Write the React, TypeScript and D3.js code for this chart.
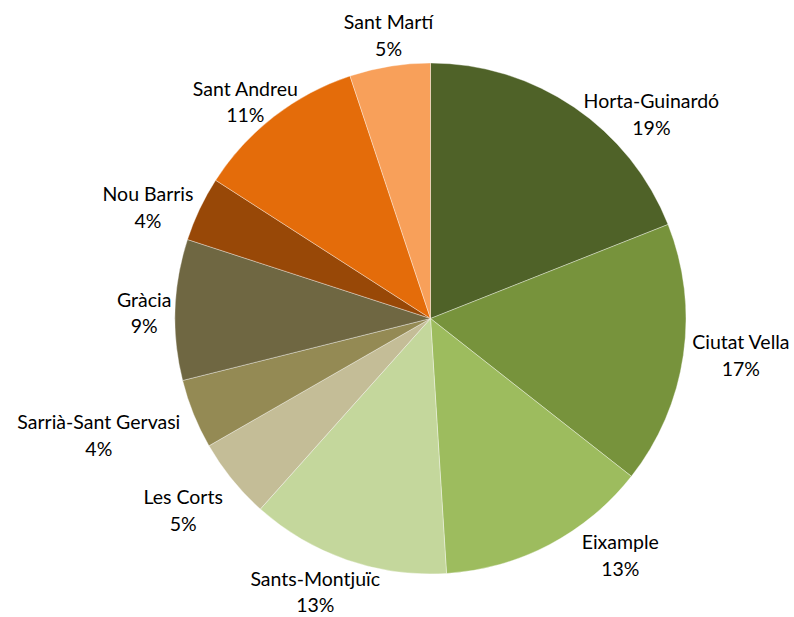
import { useMemo } from "react";
import * as d3 from "d3";

const districts = [
  "Horta-Guinardó",
  "Ciutat Vella",
  "Eixample",
  "Sants-Montjuïc",
  "Les Corts",
  "Sarrià-Sant Gervasi",
  "Gràcia",
  "Nou Barris",
  "Sant Andreu",
  "Sant Martí",
];
const shares = [19.0, 16.6, 13.4, 12.6, 5.1, 4.4, 8.9, 4.1, 10.8, 5.1];
const percentLabels = ["19%", "17%", "13%", "13%", "5%", "4%", "9%", "4%", "11%", "5%"];

const colors = [
  "#4f6228",
  "#77933c",
  "#9dbc5e",
  "#c4d79c",
  "#c4bd97",
  "#948a54",
  "#6f6742",
  "#984807",
  "#e46c0a",
  "#f8a05a",
];

// excel "best fit" moves some labels off the slice middle
const labelNudge = [
  [52, 45],
  [13, -6],
  [50, -29],
  [-17, -10],
  [-14, 3],
  [-53, 5],
  [14, 5],
  [-11, 18],
  [-1, 21],
  [6, 14],
];

const width = 794;
const height = 617;
const cx = 430.5;
const cy = 318.5;
const radius = 255.5;
const labelRadius = radius + 45;

export default function App() {
  const slices = useMemo(() => {
    const pie = d3
      .pie<number>()
      .sort(null)
      .value((d) => d);
    return pie(shares);
  }, []);

  const arc = d3.arc<d3.PieArcDatum<number>>().innerRadius(0).outerRadius(radius);

  return (
    <svg
      width={width}
      height={height}
      style={{ position: "absolute", left: 0, top: 0, background: "#fff" }}
      fontFamily="Lato, 'Noto Sans', sans-serif"
    >
      <g transform={`translate(${cx}, ${cy})`}>
        {slices.map((s, i) => (
          <path
            key={districts[i]}
            d={arc(s) ?? ""}
            fill={colors[i]}
            stroke="#ffffff"
            strokeWidth={0.6}
            strokeOpacity={0.6}
          />
        ))}
        {slices.map((s, i) => {
          const mid = (s.startAngle + s.endAngle) / 2;
          const x = Math.sin(mid) * labelRadius + labelNudge[i][0];
          const y = -Math.cos(mid) * labelRadius + labelNudge[i][1];
          return (
            <text
              key={"l" + i}
              x={x}
              y={y}
              textAnchor="middle"
              fontSize={19.5}
              fill="#000"
            >
              <tspan x={x} y={y - 6.5}>
                {districts[i]}
              </tspan>
              <tspan x={x} y={y + 20}>
                {percentLabels[i]}
              </tspan>
            </text>
          );
        })}
      </g>
    </svg>
  );
}
